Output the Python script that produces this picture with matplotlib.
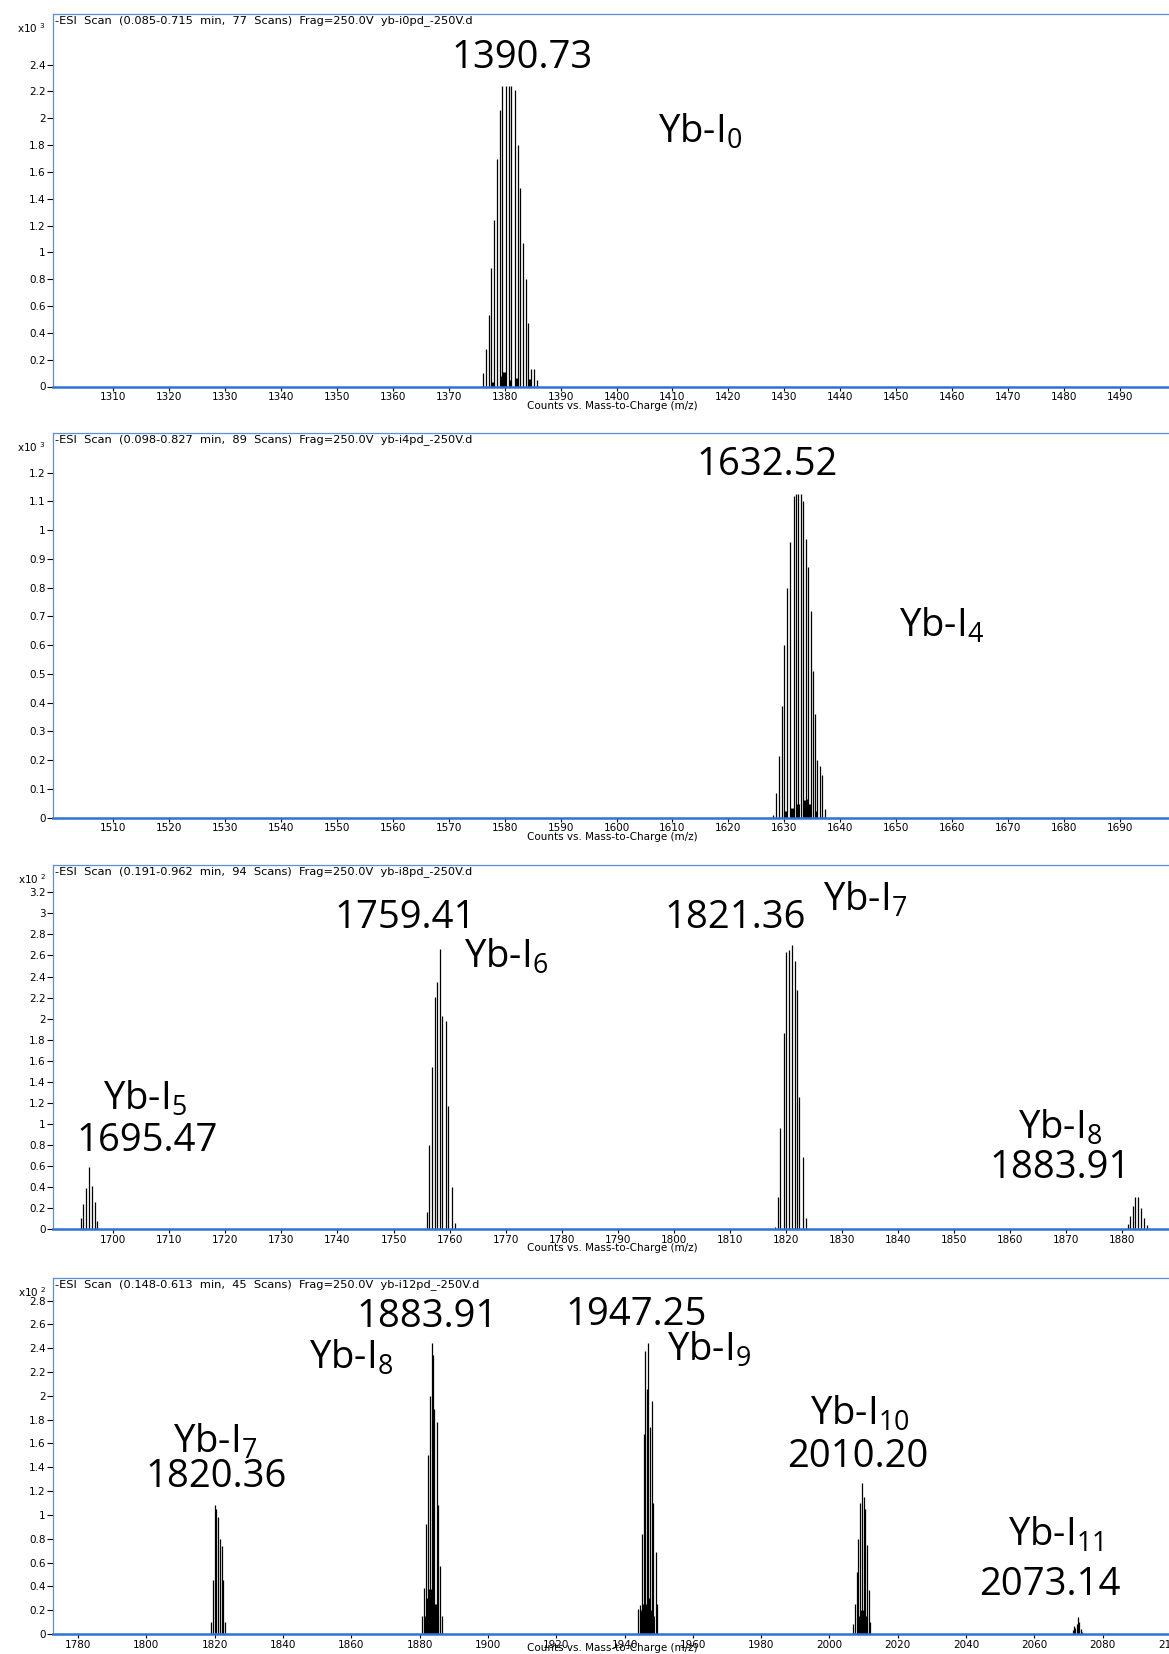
import matplotlib
matplotlib.use("Agg")
import matplotlib.pyplot as plt
import numpy as np

W, H = 1169, 1654

plt.rcParams["mathtext.default"] = "regular"
plt.rcParams["font.family"] = ["DejaVu Sans"]

# ─────────────────────────────────────────────
# Stick spectra (intensities in units of the axis multiplier)
# ─────────────────────────────────────────────
# Yb-I0, yb-i0pd  (x10^3)
p1_mz = [1376.1, 1376.6, 1377.2, 1377.6, 1378.1, 1378.7, 1379.2, 1379.6, 1380.2, 1380.7,
         1381.1, 1381.8, 1382.3, 1382.7, 1383.3, 1383.8, 1384.2, 1384.7, 1385.3, 1385.8]
p1_int = [0.10, 0.28, 0.53, 0.88, 1.24, 1.70, 2.06, 2.24, 2.24, 2.24,
          2.24, 2.21, 1.80, 1.48, 1.07, 0.80, 0.47, 0.13, 0.13, 0.045]
p1_minor_mz = [1377.9, 1379.4, 1379.8, 1381.0, 1382.1, 1384.4]
p1_minor_int = [0.037, 0.08, 0.11, 0.05, 0.062, 0.055]

# Yb-I4, yb-i4pd  (x10^3)
p2_mz = [1627.9, 1628.6, 1629.0, 1629.5, 1629.9, 1630.5, 1631.0, 1631.7, 1632.1, 1632.5,
         1632.9, 1633.4, 1633.8, 1634.2, 1634.7, 1635.1, 1635.5, 1635.9, 1636.4, 1636.8, 1637.3]
p2_int = [0.008, 0.087, 0.214, 0.39, 0.60, 0.80, 0.957, 1.12, 1.127, 1.127,
          1.127, 1.10, 0.97, 0.87, 0.72, 0.51, 0.36, 0.20, 0.18, 0.15, 0.03]
p2_minor_mz = [1630.1, 1631.3, 1632.5, 1633.6, 1634.0, 1634.5, 1635.7]
p2_minor_int = [0.023, 0.035, 0.046, 0.06, 0.064, 0.046, 0.023]

# yb-i8pd  (x10^2): Yb-I5, Yb-I6, Yb-I7, Yb-I8
p3_i5_mz = [1694.2, 1694.6, 1695.1, 1695.7, 1696.2, 1696.8, 1697.0]
p3_i5_int = [0.10, 0.24, 0.39, 0.59, 0.41, 0.26, 0.08]
p3_i6_mz = [1756.0, 1756.4, 1756.8, 1757.4, 1757.8, 1758.3, 1758.7, 1759.4, 1759.8, 1760.4, 1760.9]
p3_i6_int = [0.16, 0.80, 1.54, 2.21, 2.35, 2.66, 2.02, 1.98, 1.17, 0.40, 0.06]
p3_i7_mz = [1818.1, 1818.6, 1818.9, 1819.6, 1820.0, 1820.5, 1821.1, 1821.6, 1822.0, 1822.4, 1823.0, 1823.6]
p3_i7_int = [0.02, 0.30, 0.96, 1.86, 2.63, 2.65, 2.70, 2.55, 2.27, 1.25, 0.68, 0.10]
p3_i8_mz = [1881.0, 1881.5, 1882.0, 1882.4, 1882.9, 1883.4, 1883.9, 1884.4]
p3_i8_int = [0.05, 0.12, 0.22, 0.30, 0.30, 0.20, 0.10, 0.04]

# yb-i12pd  (x10^2): Yb-I7 .. Yb-I11
p4_i7_mz = [1819.0, 1819.5, 1820.0, 1820.5, 1821.0, 1821.5, 1822.0, 1822.5, 1823.0]
p4_i7_int = [0.10, 0.45, 1.08, 1.05, 0.98, 0.80, 0.74, 0.45, 0.10]
p4_i8_mz = [1880.6, 1881.3, 1882.0, 1882.5, 1883.0, 1883.5, 1883.8, 1884.3, 1885.0, 1885.4, 1885.9, 1886.5]
p4_i8_int = [0.154, 0.39, 0.92, 1.50, 2.0, 2.44, 2.34, 1.89, 1.78, 1.08, 0.57, 0.15]
p4_i8_minor_mz = [1881.6, 1882.2, 1882.8, 1883.3, 1884.0, 1884.6, 1885.2]
p4_i8_minor_int = [0.15, 0.30, 0.38, 0.38, 0.30, 0.25, 0.15]
p4_i9_mz = [1943.9, 1944.4, 1945.1, 1945.6, 1946.1, 1946.6, 1946.9, 1947.4, 1947.9, 1948.4, 1949.1, 1949.6]
p4_i9_int = [0.21, 0.24, 0.84, 1.68, 2.38, 2.06, 2.44, 1.74, 1.96, 1.10, 0.69, 0.25]
p4_i9_minor_mz = [1944.8, 1945.4, 1946.4, 1947.1, 1947.7, 1948.2]
p4_i9_minor_int = [0.20, 0.25, 0.25, 0.30, 0.20, 0.15]
p4_i10_mz = [2007.0, 2007.5, 2008.0, 2008.5, 2009.0, 2009.5, 2010.0, 2010.5, 2011.0, 2011.5, 2012.0]
p4_i10_int = [0.08, 0.25, 0.52, 0.80, 1.10, 1.27, 1.15, 1.05, 0.75, 0.37, 0.10]
p4_i10_minor_mz = [2008.7, 2009.3, 2010.2, 2010.8]
p4_i10_minor_int = [0.15, 0.20, 0.20, 0.15]
p4_i11_mz = [2071.2, 2071.6, 2072.0, 2072.4, 2072.8, 2073.2, 2073.6, 2074.0]
p4_i11_int = [0.03, 0.07, 0.05, 0.08, 0.14, 0.10, 0.04, 0.015]

scan_titles = [
    "-ESI  Scan  (0.085-0.715  min,  77  Scans)  Frag=250.0V  yb-i0pd_-250V.d",
    "-ESI  Scan  (0.098-0.827  min,  89  Scans)  Frag=250.0V  yb-i4pd_-250V.d",
    "-ESI  Scan  (0.191-0.962  min,  94  Scans)  Frag=250.0V  yb-i8pd_-250V.d",
    "-ESI  Scan  (0.148-0.613  min,  45  Scans)  Frag=250.0V  yb-i12pd_-250V.d",
]
multipliers = ["3", "3", "2", "2"]
x_ranges = [(1299.2, 1499.2), (1499.2, 1699.2), (1689.2, 1888.8), (1772.6, 2100.1)]
y_tops = [2.78, 1.339, 3.46, 2.99]
x_ticks = [np.arange(1310, 1491, 10), np.arange(1510, 1691, 10),
           np.arange(1700, 1881, 10), np.arange(1780, 2101, 20)]
y_ticks = [np.arange(0, 2.41, 0.2), np.arange(0, 1.21, 0.1),
           np.arange(0, 3.21, 0.2), np.arange(0, 2.81, 0.2)]

# peak annotations: (text, x px, y px) on the page
peak_labels = [
    ("1390.73", 522, 58), (r"Yb-I$_{0}$", 700, 132),
    ("1632.52", 767, 465), (r"Yb-I$_{4}$", 942, 626),
    ("1759.41", 405, 918), (r"Yb-I$_{6}$", 506, 957),
    ("1821.36", 735, 918), (r"Yb-I$_{7}$", 865, 900),
    (r"Yb-I$_{5}$", 145, 1099), ("1695.47", 147, 1141),
    (r"Yb-I$_{8}$", 1060, 1128), ("1883.91", 1060, 1168),
    ("1883.91", 427, 1317), (r"Yb-I$_{8}$", 351, 1358),
    ("1947.25", 636, 1315), (r"Yb-I$_{9}$", 709, 1350),
    (r"Yb-I$_{7}$", 215, 1442), ("1820.36", 216, 1477),
    (r"Yb-I$_{10}$", 860, 1414), ("2010.20", 858, 1457),
    (r"Yb-I$_{11}$", 1055, 1535), ("2073.14", 1050, 1585),
]

# axes boxes in page pixels: (top, bottom)
panel_px = [(13.7, 386.5), (432.6, 817.7), (865.0, 1229.0), (1278.0, 1634.0)]
left_px = 52.8

sticks = [
    [(p1_mz, p1_int)],
    [(p2_mz, p2_int)],
    [(p3_i5_mz, p3_i5_int), (p3_i6_mz, p3_i6_int), (p3_i7_mz, p3_i7_int), (p3_i8_mz, p3_i8_int)],
    [(p4_i7_mz, p4_i7_int), (p4_i8_mz, p4_i8_int), (p4_i9_mz, p4_i9_int),
     (p4_i10_mz, p4_i10_int), (p4_i11_mz, p4_i11_int)],
]
minor_sticks = [
    [(p1_minor_mz, p1_minor_int)],
    [(p2_minor_mz, p2_minor_int)],
    [],
    [(p4_i8_minor_mz, p4_i8_minor_int), (p4_i9_minor_mz, p4_i9_minor_int),
     (p4_i10_minor_mz, p4_i10_minor_int)],
]

FRAME = "#5b8fd8"
AXIS = "#2f72d6"

fig = plt.figure(figsize=(W / 100, H / 100), dpi=100)

for i in range(4):
    top, bot = panel_px[i]
    ax = fig.add_axes([left_px / W, 1 - bot / H, 1 - left_px / W + 0.002, (bot - top) / H])

    for mz, inten in sticks[i]:
        ax.vlines(mz, 0, inten, color="black", lw=0.9)
    for mz, inten in minor_sticks[i]:
        ax.vlines(mz, 0, inten, color="black", lw=2.2)

    ax.set_xlim(*x_ranges[i])
    ax.set_ylim(0, y_tops[i])
    ax.set_xticks(x_ticks[i])
    ax.set_xticklabels([f"{v:g}" for v in x_ticks[i]], fontsize=7.5)
    ax.set_yticks(y_ticks[i])
    ax.set_yticklabels([f"{round(v, 2):g}" for v in y_ticks[i]], fontsize=7.5)
    ax.tick_params(axis="x", length=3, width=0.8, pad=1, color="black")
    ax.tick_params(axis="y", length=4, width=0.8, pad=1, color="black")

    ax.spines["right"].set_visible(False)
    ax.spines["top"].set_color(FRAME)
    ax.spines["top"].set_linewidth(0.9)
    ax.spines["left"].set_color(FRAME)
    ax.spines["left"].set_linewidth(0.9)
    ax.spines["bottom"].set_color(AXIS)
    ax.spines["bottom"].set_linewidth(1.8)

    # the last panel sits on the page edge, so its axis title tucks under the ticks
    ax.set_xlabel("Counts vs. Mass-to-Charge (m/z)", fontsize=7.5,
                  labelpad=-5 if i == 3 else -1)
    ax.text(0.002, 0.997, scan_titles[i], transform=ax.transAxes, ha="left", va="top",
            fontsize=8.2)
    ax.text(-0.006, 1 - 14 / (bot - top), "x10 $^{" + multipliers[i] + "}$",
            transform=ax.transAxes, ha="right", va="center", fontsize=7.5)

for text, x, y in peak_labels:
    fig.text(x / W, 1 - y / H, text, ha="center", va="center", fontsize=27.5,
             family="Open Sans", color="black")

fig.savefig("out.png", dpi=100)
